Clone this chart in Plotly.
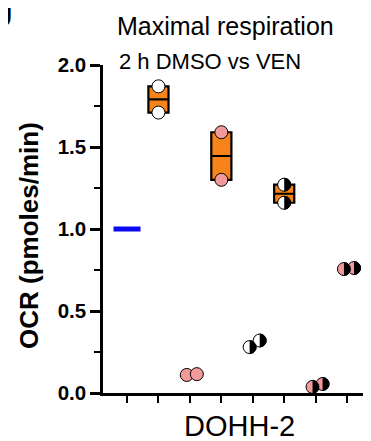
import numpy as np
import plotly.graph_objects as go

# ---------------- data ----------------
groups = ["DMSO", "VEN A", "VEN B", "VEN C", "VEN D", "VEN E", "VEN F", "VEN G"]
dmso_reference = [1.0]
ven_a = [1.87, 1.71]      # white, with box
ven_b = [0.11, 0.115]     # pink
ven_c = [1.59, 1.30]      # pink, with box
ven_d = [0.28, 0.32]      # half white / black
ven_e = [1.27, 1.16]      # half white / black, with box
ven_f = [0.037, 0.055]    # half pink / black
ven_g = [0.756, 0.762]    # half pink / black
y_ticks = [0.0, 0.5, 1.0, 1.5, 2.0]
y_tick_labels = ["0.0", "0.5", "1.0", "1.5", "2.0"]

# ---------------- style / layout ----------------
OFF = 8                      # page body margin
W, H = 371 - OFF, 441 - OFF
ML, MR, MT, MB = 103 - OFF, 0, 65 - OFF, H - (393 - OFF)
PW, PH = W - ML - MR, H - MT - MB
XR = [0.236, 8.76]
YR = [0.0, 2.0]
px_x = PW / (XR[1] - XR[0])
px_y = PH / (YR[1] - YR[0])
ORANGE = "#F7841B"
PINK = "#F29A9A"
WHITE = "#FFFFFF"
BLUE = "#0A0AF0"
MSIZE = 13
JIT = [-0.1, 0.22]
FONT = "Liberation Sans, Arial, Helvetica, sans-serif"


def px(xp):
    return (xp - OFF - ML) / PW


def py(yp):
    return ((H - MB) - (yp - OFF)) / PH


pos = {g: i + 1 for i, g in enumerate(groups)}

series = [
    ("VEN A", ven_a, WHITE, False, True),
    ("VEN B", ven_b, PINK, False, False),
    ("VEN C", ven_c, PINK, False, True),
    ("VEN D", ven_d, WHITE, True, False),
    ("VEN E", ven_e, WHITE, True, True),
    ("VEN F", ven_f, PINK, True, False),
    ("VEN G", ven_g, PINK, True, False),
]

fig = go.Figure()

xd = pos["DMSO"]
fig.add_trace(go.Scatter(x=[xd - 0.43, xd + 0.43], y=[dmso_reference[0]] * 2,
                         mode="lines", line=dict(color=BLUE, width=5),
                         showlegend=False, hoverinfo="skip"))

for g, vals, col, half, box in series:
    if not box:
        continue
    fig.add_trace(go.Box(x=[pos[g]], q1=[min(vals)], q3=[max(vals)],
                         median=[float(np.mean(vals))],
                         lowerfence=[min(vals)], upperfence=[max(vals)],
                         width=0.64, fillcolor=ORANGE,
                         line=dict(color="black", width=2.2),
                         showlegend=False, hoverinfo="skip"))

r = MSIZE / 2
half_x, half_y = [], []
for g, vals, col, half, box in series:
    if box:
        xs = [pos[g]] * len(vals)
    else:
        xs = [pos[g] + JIT[i] for i in range(len(vals))]
    fig.add_trace(go.Scatter(x=xs, y=vals, mode="markers",
                             marker=dict(size=MSIZE, color=col,
                                         line=dict(color="black", width=1)),
                             cliponaxis=False, showlegend=False,
                             hoverinfo="skip"))
    if half:
        t = np.linspace(-np.pi / 2, np.pi / 2, 25)
        for xv, yv in zip(xs, vals):
            half_x += list(xv + (r / px_x) * np.cos(t)) + [None]
            half_y += list(yv + (r / px_y) * np.sin(t)) + [None]

fig.add_trace(go.Scatter(x=half_x, y=half_y, mode="lines", fill="toself",
                         fillcolor="black", line=dict(color="black", width=1),
                         showlegend=False, hoverinfo="skip"))

fig.update_layout(
    width=W, height=H,
    margin=dict(l=ML, r=MR, t=MT, b=MB),
    paper_bgcolor="white", plot_bgcolor="white",
    font=dict(family=FONT, color="black"),
    showlegend=False,
    xaxis=dict(range=XR, showgrid=False, zeroline=False, showline=True,
               linecolor="black", linewidth=2.5,
               tickvals=[pos[g] for g in groups], ticktext=[""] * len(groups),
               ticks="outside", ticklen=7, tickwidth=2.2, tickcolor="black"),
    yaxis=dict(range=YR, showgrid=False, zeroline=False, showline=True,
               linecolor="black", linewidth=2.5,
               tickvals=y_ticks, ticktext=y_tick_labels,
               ticks="outside", ticklen=10, tickwidth=2.5, tickcolor="black",
               tickfont=dict(size=20.5, weight="bold", family=FONT),
               minor=dict(dtick=0.25, ticks="outside", ticklen=6,
                          tickwidth=2.2, tickcolor="black")),
    annotations=[
        dict(text="Maximal respiration", xref="paper", yref="paper",
             x=px(225), y=py(26), showarrow=False,
             font=dict(size=25, family=FONT),
             xanchor="center", yanchor="middle"),
        dict(text="2 h DMSO vs VEN", xref="paper", yref="paper",
             x=px(117), y=py(61), showarrow=False,
             font=dict(size=22, family=FONT),
             xanchor="left", yanchor="middle"),
        dict(text="DOHH-2", xref="paper", yref="paper",
             x=px(239), y=py(426), showarrow=False,
             font=dict(size=29, family=FONT),
             xanchor="center", yanchor="middle"),
        dict(text="<b>OCR (pmoles/min)</b>", xref="paper", yref="paper",
             x=px(29), y=py(236), showarrow=False, textangle=-90,
             font=dict(size=26, family=FONT),
             xanchor="center", yanchor="middle"),
        dict(text="<b>J</b>", xref="paper", yref="paper",
             x=px(15), y=py(-11), showarrow=False,
             font=dict(size=40, family=FONT),
             xanchor="right", yanchor="top"),
    ],
)

fig.write_html("out.html")
